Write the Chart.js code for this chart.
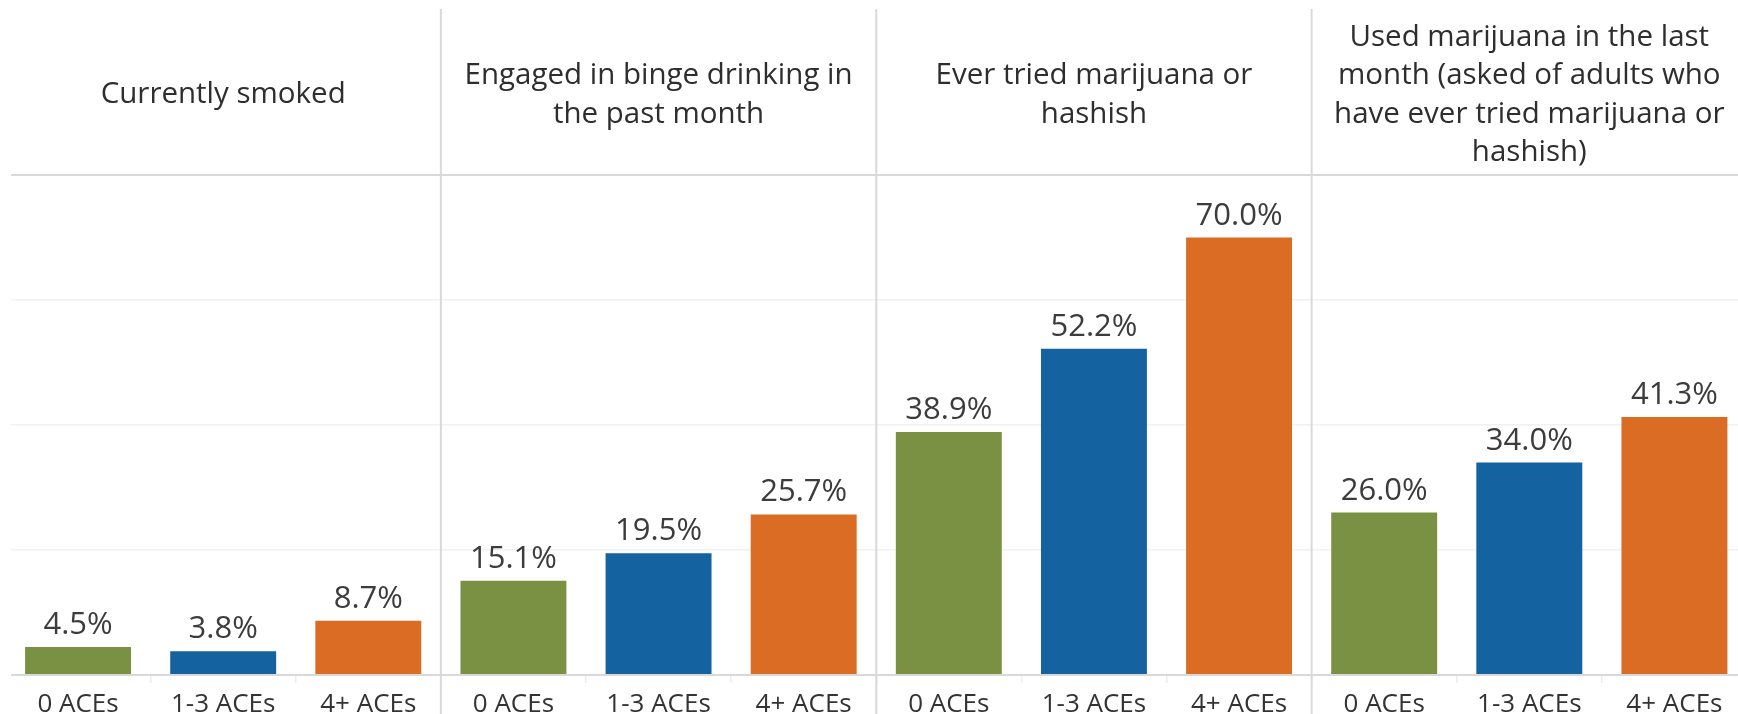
<!DOCTYPE html>
<html>
<head>
<meta charset="utf-8">
<script src="https://cdn.jsdelivr.net/npm/chart.js@4"></script>
<style>
    html, body { margin: 0; padding: 0; background: #fff; overflow: hidden; }
    #wrap { position: relative; width: 1747px; height: 714px; }
</style>
</head>
<body>
<div id="wrap"><canvas id="aceChart"></canvas></div>
<script>
// ACE groups repeated inside each panel
const aceGroups = ['0 ACEs', '1-3 ACEs', '4+ ACEs'];
const groupColors = ['#7a9143', '#1562a0', '#da6c23'];

// panel headers, already wrapped the way the original shows them
const panelTitles = [
    ['Currently smoked'],
    ['Engaged in binge drinking in', 'the past month'],
    ['Ever tried marijuana or', 'hashish'],
    ['Used marijuana in the last', 'month (asked of adults who', 'have ever tried marijuana or', 'hashish)']
];

// percentages per panel, in ACE group order
const smokedValues = [4.5, 3.8, 8.7];
const bingeValues = [15.1, 19.5, 25.7];
const everTriedValues = [38.9, 52.2, 70.0];
const lastMonthValues = [26.0, 34.0, 41.3];

const yTicks = [0, 20, 40, 60, 80];

const panelValues = [smokedValues, bingeValues, everTriedValues, lastMonthValues];
const labels = [];
const values = [];
const colors = [];
panelValues.forEach(vals => {
    vals.forEach((v, i) => {
        labels.push(aceGroups[i]);
        values.push(v);
        colors.push(groupColors[i]);
    });
});

const FONT = '"Open Sans", "DejaVu Sans", sans-serif';
const DIVIDER = '#d9d9d9';

// draws panel dividers, panel headers and the value labels above bars
const panelPlugin = {
    id: 'panelPlugin',
    afterDatasetsDraw(chart) {
        const ctx = chart.ctx;
        const x = chart.scales.x;
        const area = chart.chartArea;
        const nPanels = panelTitles.length;
        const per = aceGroups.length;

        ctx.save();
        // hide the bit of the horizontal rules left of the first panel
        ctx.fillStyle = '#fff';
        ctx.fillRect(0, 0, 11, chart.height);

        ctx.strokeStyle = DIVIDER;
        ctx.lineWidth = 2;
        for (let p = 1; p < nPanels; p++) {
            const bx = (x.getPixelForValue(p * per - 1) + x.getPixelForValue(p * per)) / 2;
            ctx.beginPath();
            ctx.moveTo(bx, 9);
            ctx.lineTo(bx, chart.height);
            ctx.stroke();
        }

        // headers
        ctx.fillStyle = '#2e2e2e';
        ctx.font = '29.5px ' + FONT;
        ctx.textAlign = 'center';
        ctx.textBaseline = 'middle';
        const midY = (9 + area.top) / 2 + 3;
        const lh = 38.6;
        panelTitles.forEach((lines, p) => {
            const cx = (x.getPixelForValue(p * per) + x.getPixelForValue(p * per + per - 1)) / 2;
            lines.forEach((line, i) => {
                ctx.fillText(line, cx, midY + (i - (lines.length - 1) / 2) * lh);
            });
        });

        // value labels
        const meta = chart.getDatasetMeta(0);
        ctx.fillStyle = '#3c3c3c';
        ctx.font = '31px ' + FONT;
        ctx.textBaseline = 'alphabetic';
        meta.data.forEach((bar, i) => {
            ctx.fillText(values[i].toFixed(1) + '%', bar.x, bar.y - 13);
        });
        ctx.restore();
    }
};

function drawChart() {
    const ctx = document.getElementById('aceChart').getContext('2d');
    new Chart(ctx, {
        type: 'bar',
        data: {
            labels: labels,
            datasets: [{
                data: values,
                backgroundColor: colors,
                borderWidth: 0,
                barPercentage: 0.73,
                categoryPercentage: 1
            }]
        },
        options: {
            responsive: true,
            maintainAspectRatio: false,
            animation: false,
            layout: { padding: { top: 175, left: 5.5, right: 0, bottom: 0 } },
            plugins: {
                legend: { display: false },
                tooltip: { enabled: false }
            },
            scales: {
                x: {
                    afterFit: scale => { scale.height = 39; },
                    border: { display: false },
                    grid: {
                        offset: true,
                        color: 'transparent',
                        tickColor: '#ededed',
                        tickLength: 8,
                        lineWidth: 1.5
                    },
                    ticks: {
                        color: '#333',
                        font: { family: FONT, size: 26 },
                        padding: 6,
                        maxRotation: 0,
                        autoSkip: false
                    }
                },
                y: {
                    min: yTicks[0],
                    max: yTicks[yTicks.length - 1],
                    afterFit: scale => { scale.width = 0; },
                    afterBuildTicks: scale => { scale.ticks = yTicks.map(v => ({ value: v })); },
                    border: { display: false },
                    grid: {
                        drawTicks: false,
                        color: c => (c.tick.value === 0 || c.tick.value === 80) ? DIVIDER : '#f1f1f1',
                        lineWidth: c => (c.tick.value === 0 || c.tick.value === 80) ? 2 : 1.5
                    },
                    ticks: { display: false }
                }
            }
        },
        plugins: [panelPlugin]
    });
}

document.fonts.load('28px "Open Sans"').then(drawChart, drawChart);
</script>
</body>
</html>
